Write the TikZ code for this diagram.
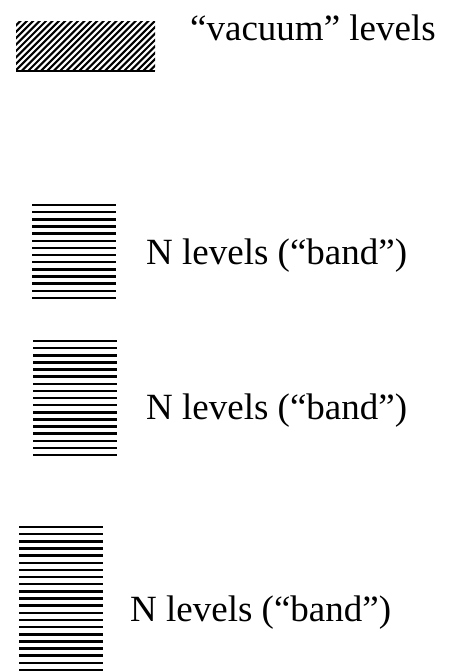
\documentclass[tikz,border=0pt]{standalone}
\usepackage{fontspec}
\setmainfont{Liberation Serif}
\usetikzlibrary{positioning}

\begin{document}
\begin{tikzpicture}[x=1pt,y=-1pt,
      lvl/.style={line width=2.5pt},
      hatch/.style={line width=2.1pt},
      lbl/.style={anchor=west,inner sep=0pt,font=\fontsize{37}{44}\selectfont}
    ]
      \useasboundingbox (0,0) rectangle (450,672);
      % vacuum levels
      \begin{scope}
        \clip (16,21) rectangle (155,70);
        \foreach \i in {0,...,32}
          \draw[hatch] (\i*6.4-40,75) -- ++(60,-60);
      \end{scope}
      \draw[lvl] (16,71) -- (155,71);
      % bands
      \foreach \k in {0,...,13}
        \draw[lvl] (32,205+\k*7.15) -- (116,205+\k*7.15);
      \foreach \k in {0,...,16}
        \draw[lvl] (33,341+\k*7.125) -- (117,341+\k*7.125);
      \foreach \k in {0,...,20}
        \draw[lvl] (19,527+\k*7.15) -- (103,527+\k*7.15);
      % labels
      \node[lbl] (vac) at (190,28) {“vacuum” levels};
      \node[lbl] (bandA) at (146,256) {N levels (“band”)};
      \node[lbl] (bandB) at (146,411) {N levels (“band”)};
      \node[lbl] (bandC) at (130,613) {N levels (“band”)};
\end{tikzpicture}
\end{document}
